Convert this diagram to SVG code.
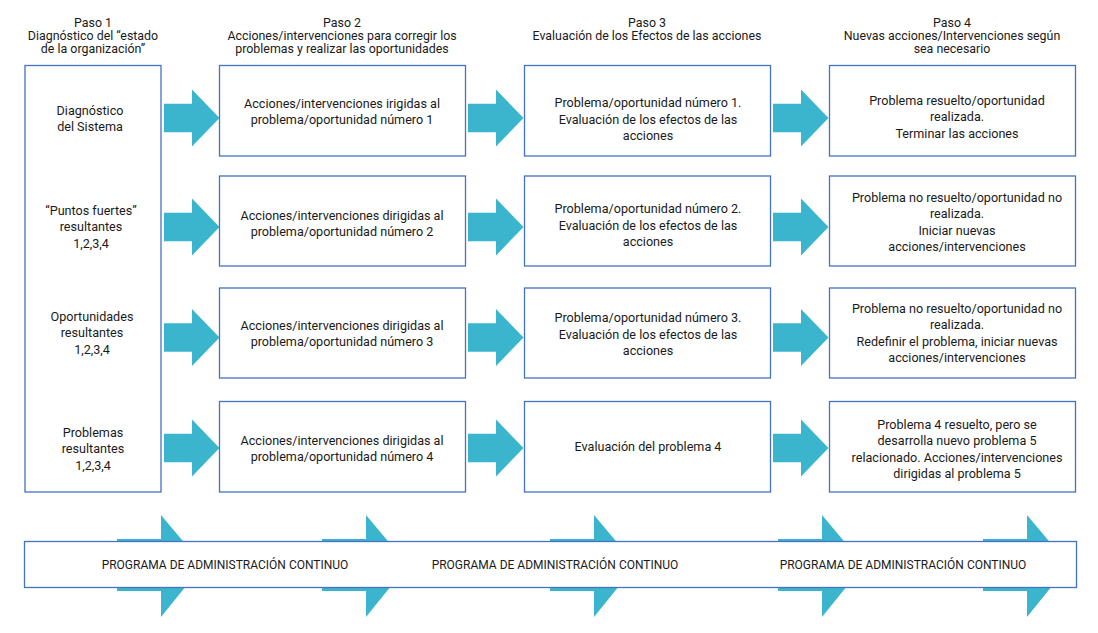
<svg xmlns="http://www.w3.org/2000/svg" width="1098" height="633" viewBox="0 0 1098 633">
<style>
text{font-family:Roboto,"Liberation Sans",sans-serif;font-size:12.6px;fill:#1a1a1a;text-anchor:middle}
.hd{font-size:12.4px}
.cap{font-size:12px}
.box{fill:#fff;stroke:#4472c4;stroke-width:1.3}
.arr{fill:#3bb5ce}
</style>
<defs>
<path id="ar" class="arr" d="M0,-14.3 H28 V-28.5 L55.5,0 L28,28.5 V14.3 H0 Z"/>
<path id="ab" class="arr" d="M0,-26 H44 V-50 L86,0 L44,52 V26 H0 Z"/>
</defs>
<rect width="1098" height="633" fill="#fff"/>
<g id="headers" class="hd">
<text class="hd" x="93" y="26.5">Paso 1</text>
<text class="hd" x="93" y="39.5">Diagnóstico del “estado</text>
<text class="hd" x="93" y="52.5">de la organización”</text>
<text class="hd" x="342" y="26.5">Paso 2</text>
<text class="hd" x="342" y="39.5">Acciones/intervenciones para corregir los</text>
<text class="hd" x="342" y="52.5">problemas y realizar las oportunidades</text>
<text class="hd" x="647" y="26.5">Paso 3</text>
<text class="hd" x="647" y="39.5">Evaluación de los Efectos de las acciones</text>
<text class="hd" x="952" y="26.5">Paso 4</text>
<text class="hd" x="952" y="39.5">Nuevas acciones/Intervenciones según</text>
<text class="hd" x="952" y="52.5">sea necesario</text>
</g>
<g id="bottom-arrows">
<use href="#ab" x="117" y="565"/>
<use href="#ab" x="322" y="565"/>
<use href="#ab" x="550" y="565"/>
<use href="#ab" x="778" y="565"/>
<use href="#ab" x="983" y="565"/>
</g>
<g id="programa">
<rect class="box" x="24.5" y="541.5" width="1052" height="46"/>
<text class="cap" x="225" y="569">PROGRAMA DE ADMINISTRACIÓN CONTINUO</text>
<text class="cap" x="555" y="569">PROGRAMA DE ADMINISTRACIÓN CONTINUO</text>
<text class="cap" x="903" y="569">PROGRAMA DE ADMINISTRACIÓN CONTINUO</text>
</g>
<g id="connectors">
<use href="#ar" x="164" y="118"/>
<use href="#ar" x="468" y="118"/>
<use href="#ar" x="773" y="118"/>
<use href="#ar" x="164" y="227"/>
<use href="#ar" x="468" y="227"/>
<use href="#ar" x="773" y="227"/>
<use href="#ar" x="164" y="337.5"/>
<use href="#ar" x="468" y="337.5"/>
<use href="#ar" x="773" y="337.5"/>
<use href="#ar" x="164" y="448"/>
<use href="#ar" x="468" y="448"/>
<use href="#ar" x="773" y="448"/>
</g>
<g id="diagnostico">
<rect class="box" x="25" y="65.5" width="136" height="426.5"/>
<text x="90" y="114.5">Diagnóstico</text>
<text x="90" y="131">del Sistema</text>
<text x="91" y="214.5">“Puntos fuertes”</text>
<text x="91" y="231">resultantes</text>
<text x="91" y="248">1,2,3,4</text>
<text x="92" y="320.5">Oportunidades</text>
<text x="92" y="337">resultantes</text>
<text x="92" y="354">1,2,3,4</text>
<text x="93" y="436.5">Problemas</text>
<text x="93" y="453">resultantes</text>
<text x="93" y="470">1,2,3,4</text>
</g>
<g id="acc1"><rect class="box" x="219.5" y="65.5" width="246" height="90.5"/>
<text x="342" y="107.5">Acciones/intervenciones irigidas al</text>
<text x="342" y="124">problema/oportunidad número 1</text></g>
<g id="acc2"><rect class="box" x="219.5" y="176" width="246" height="90"/>
<text x="342" y="219.5">Acciones/intervenciones dirigidas al</text>
<text x="342" y="236">problema/oportunidad número 2</text></g>
<g id="acc3"><rect class="box" x="219.5" y="288" width="246" height="90"/>
<text x="342" y="329.5">Acciones/intervenciones dirigidas al</text>
<text x="342" y="346">problema/oportunidad número 3</text></g>
<g id="acc4"><rect class="box" x="219.5" y="401.5" width="246" height="90.5"/>
<text x="342" y="444.5">Acciones/intervenciones dirigidas al</text>
<text x="342" y="461">problema/oportunidad número 4</text></g>
<g id="eval1"><rect class="box" x="524.5" y="65.5" width="246" height="90.5"/>
<text x="648" y="107">Problema/oportunidad número 1.</text>
<text x="648" y="123.5">Evaluación de los efectos de las</text>
<text x="648" y="140">acciones</text></g>
<g id="eval2"><rect class="box" x="524.5" y="176" width="246" height="90"/>
<text x="648" y="213">Problema/oportunidad número 2.</text>
<text x="648" y="229.5">Evaluación de los efectos de las</text>
<text x="648" y="246">acciones</text></g>
<g id="eval3"><rect class="box" x="524.5" y="288" width="246" height="90"/>
<text x="648" y="322">Problema/oportunidad número 3.</text>
<text x="648" y="338.5">Evaluación de los efectos de las</text>
<text x="648" y="355">acciones</text></g>
<g id="eval4"><rect class="box" x="524.5" y="401.5" width="246" height="90.5"/>
<text x="648" y="450.5">Evaluación del problema 4</text></g>
<g id="nuevas1"><rect class="box" x="829.5" y="65.5" width="246" height="90.5"/>
<text x="957" y="104.5">Problema resuelto/oportunidad</text>
<text x="957" y="121">realizada.</text>
<text x="957" y="137.5">Terminar las acciones</text></g>
<g id="nuevas2"><rect class="box" x="829.5" y="176" width="246" height="90"/>
<text x="957" y="201.5">Problema no resuelto/oportunidad no</text>
<text x="957" y="218">realizada.</text>
<text x="957" y="234.5">Iniciar nuevas</text>
<text x="957" y="251">acciones/intervenciones</text></g>
<g id="nuevas3"><rect class="box" x="829.5" y="288" width="246" height="90"/>
<text x="957" y="312.5">Problema no resuelto/oportunidad no</text>
<text x="957" y="329">realizada.</text>
<text x="957" y="345.5">Redefinir el problema, iniciar nuevas</text>
<text x="957" y="362">acciones/intervenciones</text></g>
<g id="nuevas4"><rect class="box" x="829.5" y="401.5" width="246" height="90.5"/>
<text x="957" y="428.5">Problema 4 resuelto, pero se</text>
<text x="957" y="445">desarrolla nuevo problema 5</text>
<text x="957" y="461.5">relacionado. Acciones/intervenciones</text>
<text x="957" y="478">dirigidas al problema 5</text></g>
</svg>
